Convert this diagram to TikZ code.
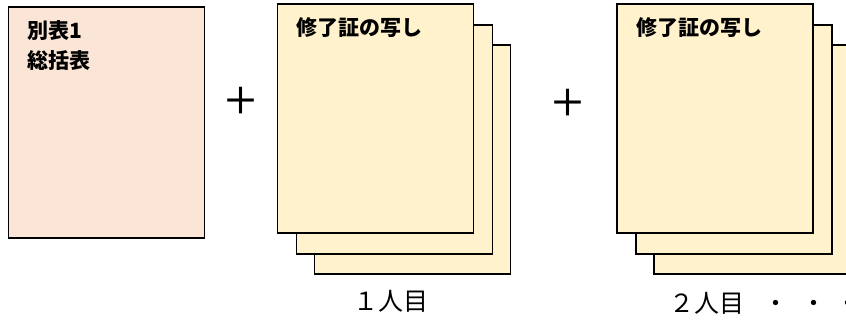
\documentclass[tikz,border=0pt]{standalone}
\usepackage{fontspec}
\usepackage{tikz}
\usetikzlibrary{calc, positioning}
\newfontfamily\jp{Noto Sans CJK JP}
\newfontfamily\jpmed{Noto Sans CJK JP Medium}
\definecolor{sheetPeach}{HTML}{FBE5D6}
\definecolor{sheetCream}{HTML}{FFF2CC}
\tikzset{
    sheet/.style={draw=black, line width=1.6pt, fill=sheetCream, anchor=north west,
        inner sep=0pt, minimum width=196pt, minimum height=229pt},
    title/.style={anchor=base west, inner sep=0pt, font=\jp\bfseries\fontsize{21}{25}\selectfont},
    caption/.style={anchor=base, inner sep=0pt, font=\jp\fontsize{25}{29}\selectfont},
    plus/.style={inner sep=0pt, font=\jpmed\fontsize{37}{37}\selectfont}
}

\begin{document}
\begin{tikzpicture}[x=1pt, y=-1pt]
    \useasboundingbox (0,0) rectangle (846,320);

    % Step 1: summary sheet
    \node[sheet, fill=sheetPeach, minimum height=231pt] (summary) at (7.5,6) {};
    \node[title] (summaryA) at ($(summary.north west)+(20,33)$) {別表1};
    \node[title] (summaryB) at ($(summaryA.base west)+(0,30)$) {総括表};

    \node[plus] (plusA) at (241,101) {＋};

    % Step 2: copies, first person
    \begin{scope}[shift={(276.5,3.5)}]
        \node[sheet] (firstC) at (37,41) {};
        \node[sheet] (firstB) at (19,21) {};
        \node[sheet] (firstA) at (0,0) {};
        \node[title] (firstT) at ($(firstA.north west)+(20,32)$) {修了証の写し};
        \node[caption] (firstL) at (114,307) {１人目};
    \end{scope}

    \node[plus] (plusB) at (568,103) {＋};

    % Step 3: copies, second person
    \begin{scope}[shift={(616,3.5)}]
        \node[sheet] (secondC) at (37,41) {};
        \node[sheet] (secondB) at (19,21) {};
        \node[sheet] (secondA) at (0,0) {};
        \node[title] (secondT) at ($(secondA.north west)+(20,32)$) {修了証の写し};
        \node[caption, anchor=base west] (secondL) at (53,309) {２人目\hspace{19pt}・\hspace{13pt}・\hspace{9pt}・};
    \end{scope}
\end{tikzpicture}
\end{document}
